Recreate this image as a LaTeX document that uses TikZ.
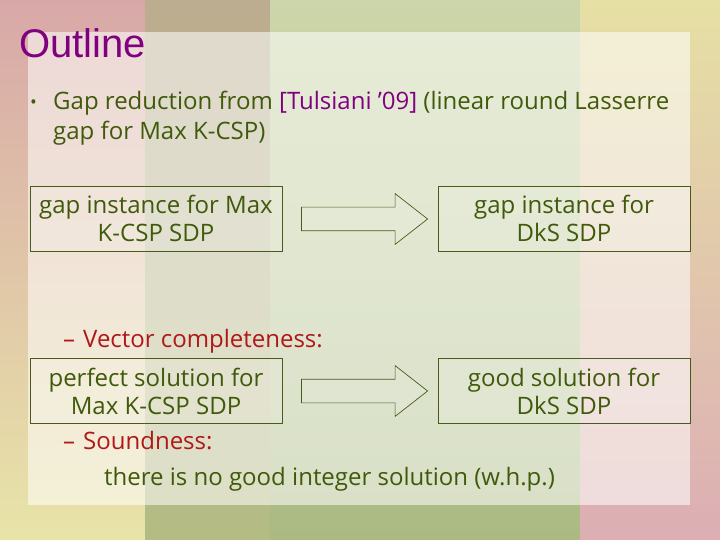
\documentclass[tikz,border=0pt]{standalone}
\usepackage{fontspec}
\setmainfont{Open Sans}
\newfontfamily\titlefont{Liberation Sans}
\usetikzlibrary{shapes.arrows}
\definecolor{txtgreen}{HTML}{3F5A0A}
\definecolor{titlepurple}{HTML}{800080}
\definecolor{redtxt}{HTML}{B01818}
\definecolor{boxline}{HTML}{4A5A1A}
\definecolor{aTop}{HTML}{D8A8A8}
\definecolor{aBot}{HTML}{E8E4A8}
\definecolor{bTop}{HTML}{BCAC90}
\definecolor{bBot}{HTML}{B4BC84}
\definecolor{cTop}{HTML}{CCD6AA}
\definecolor{cBot}{HTML}{AABA82}
\definecolor{dTop}{HTML}{E6E0A4}
\definecolor{dBot}{HTML}{DCAEB4}
\tikzset{
  bodytext/.style={text=txtgreen, font=\fontsize{24}{28}\selectfont, inner sep=0pt},
  redtext/.style={text=redtxt, font=\fontsize{24}{28}\selectfont, inner sep=0pt},
  infobox/.style={draw=boxline, line width=0.9pt, fill=white, fill opacity=0.12, text opacity=1,
    minimum width=252pt, minimum height=65pt, align=center, text=txtgreen,
    font=\fontsize{24}{28}\selectfont, inner sep=0pt},
  blockarrow/.style={draw=boxline, line width=0.7pt, shape=single arrow, single arrow head extend=13.5pt,
    single arrow tip angle=76, minimum height=126pt, inner xsep=0pt, inner ysep=11.5pt, fill=white, fill opacity=0.1}
}
\begin{document}
\begin{tikzpicture}[x=1pt,y=-1pt]
\useasboundingbox (0,0) rectangle (720,540);
% background strips
\shade[top color=aTop, bottom color=aBot] (0,0) rectangle (146,540);
\shade[top color=bTop, bottom color=bBot] (145,0) rectangle (271,540);
\shade[top color=cTop, bottom color=cBot] (270,0) rectangle (581,540);
\shade[top color=dTop, bottom color=dBot] (580,0) rectangle (720,540);
% panel
\fill[white, opacity=0.55] (28,32) rectangle (690,505);
% title
\node[anchor=base west, inner sep=0pt, text=titlepurple, font=\titlefont\fontsize{40}{44}\selectfont] (title) at (19,58) {Outline};
% bullet
\node[anchor=base west, text=txtgreen, font=\fontsize{18}{20}\selectfont, inner sep=0pt] (bul) at (30,109) {\textbullet};
\node[anchor=base west, bodytext] (l1) at (53,110) {Gap reduction from \textcolor{titlepurple}{[Tulsiani '09]} (linear round Lasserre};
\node[anchor=base west, bodytext] (l2) at (53,140) {gap for Max K-CSP)};
% boxes
\node[infobox] (b1) at (156,218.5) {gap instance for Max\\K-CSP SDP};
\node[infobox] (b2) at (564,218.5) {gap instance for\\DkS SDP};
\node[blockarrow] (a1) at (357,219) {};
\node[anchor=base west, redtext] (vc) at (63,347) {–\hspace{8pt}Vector completeness:};
\node[infobox] (b3) at (156,391) {perfect solution for\\Max K-CSP SDP};
\node[infobox] (b4) at (564,391) {good solution for\\DkS SDP};
\node[blockarrow] (a2) at (357,391) {};
\node[anchor=base west, redtext] (sd) at (63,449) {–\hspace{8pt}Soundness:};
\node[anchor=base west, bodytext] (ni) at (104,485) {there is no good integer solution (w.h.p.)};
\end{tikzpicture}
\end{document}
